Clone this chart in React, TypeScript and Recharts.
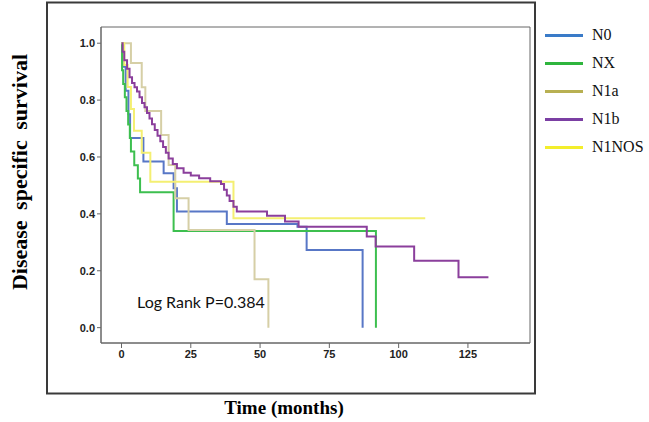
import { LineChart, Line, XAxis, YAxis, ReferenceArea } from 'recharts';

const seriesNames = ['N0', 'NX', 'N1a', 'N1b', 'N1NOS'];
const lineColors = ['#5877c6', '#3dbf4f', '#d6cfa6', '#8b3f9c', '#f4ef72'];
const legendColors = ['#3a7bc8', '#2fb53d', '#b8b052', '#7b3fa3', '#f3ee2c'];

// survival steps (time in months, cumulative survival)
const n0Time = [0, 0.5, 1.5, 2.5, 3.1, 7.9, 15.2, 18.8, 20, 38, 63.5, 66.8, 87];
const n0Surv = [1, 0.917, 0.833, 0.75, 0.667, 0.584, 0.543, 0.49, 0.408, 0.364, 0.355, 0.273, 0];

const nxTime = [0, 0.2, 0.6, 1.2, 1.8, 2.4, 3.0, 3.4, 4.6, 5.9, 6.7, 18.8, 91.8];
const nxSurv = [1, 0.905, 0.857, 0.81, 0.762, 0.714, 0.667, 0.619, 0.571, 0.524, 0.476, 0.34, 0];

const n1aTime = [0, 3.4, 7.3, 8.6, 14.3, 17, 19.4, 24.2, 48, 53];
const n1aSurv = [1, 0.93, 0.845, 0.762, 0.677, 0.572, 0.455, 0.343, 0.17, 0];

const n1bTime = [0, 0.4, 1, 2, 2.9, 3.8, 4.7, 5.6, 6.5, 7.4, 8.3, 9.2, 10.1, 11, 12, 13, 14, 15, 16, 17, 18.5, 20, 22.4, 25, 28, 32, 35.9, 37, 38, 39, 40.4, 41.6, 52.5, 59, 63.9, 88.5, 91.7, 105.6, 121.6, 132.4];
const n1bSurv = [1, 0.97, 0.94, 0.91, 0.88, 0.86, 0.845, 0.83, 0.81, 0.79, 0.775, 0.755, 0.735, 0.715, 0.695, 0.675, 0.655, 0.635, 0.615, 0.595, 0.575, 0.56, 0.545, 0.535, 0.525, 0.515, 0.505, 0.485, 0.465, 0.445, 0.425, 0.408, 0.393, 0.373, 0.355, 0.32, 0.285, 0.235, 0.177, 0.177];

const n1nosTime = [0, 1.0, 2.2, 3.4, 4.5, 7.3, 10.4, 40.4, 109.6];
const n1nosSurv = [1, 0.923, 0.846, 0.769, 0.692, 0.615, 0.513, 0.385, 0.385];

const xTicks = [0, 25, 50, 75, 100, 125];
const yTicks = [0, 0.2, 0.4, 0.6, 0.8, 1.0];

const toPoints = (t: number[], s: number[]) => t.map((v, i) => ({ t: v, s: s[i] }));

const series = [
  { name: seriesNames[0], color: lineColors[0], data: toPoints(n0Time, n0Surv) },
  { name: seriesNames[1], color: lineColors[1], data: toPoints(nxTime, nxSurv) },
  { name: seriesNames[2], color: lineColors[2], data: toPoints(n1aTime, n1aSurv) },
  { name: seriesNames[4], color: lineColors[4], data: toPoints(n1nosTime, n1nosSurv) },
  { name: seriesNames[3], color: lineColors[3], data: toPoints(n1bTime, n1bSurv) },
];

const xDomain = [-7.4, 147.4];
const yDomain = [-0.054, 1.057];

const tickStyle = { fontFamily: 'Liberation Sans, Arial', fontWeight: 700, fontSize: 11, fill: '#222' };
const serif = '"Liberation Serif", "Times New Roman", serif';

const App = () => {
  return (
    <div style={{ position: 'absolute', left: 0, top: 0, width: 649, height: 422, background: '#fff' }}>
      <svg
        width={649}
        height={422}
        style={{ position: 'absolute', left: 0, top: 0 }}
      >
        <rect x={47} y={2.5} width={488} height={391} fill="none" stroke="#3a3a3a" strokeWidth={2} />
      </svg>
      <div style={{ position: 'absolute', left: 0, top: 0 }}>
        <LineChart width={649} height={422} margin={{ top: 27, right: 119, bottom: 49, left: 51 }}>
          <XAxis
            dataKey="t"
            type="number"
            domain={xDomain}
            ticks={xTicks}
            allowDataOverflow
            height={30}
            tickSize={5}
            tick={tickStyle}
            axisLine={{ stroke: '#666' }}
            tickLine={{ stroke: '#666' }}
          />
          <YAxis
            type="number"
            domain={yDomain}
            ticks={yTicks}
            allowDataOverflow
            width={50}
            tickSize={4}
            tick={tickStyle}
            tickFormatter={(v: number) => v.toFixed(1)}
            axisLine={{ stroke: '#666' }}
            tickLine={{ stroke: '#666' }}
          />
          <ReferenceArea
            x1={xDomain[0]}
            x2={xDomain[1]}
            y1={yDomain[0]}
            y2={yDomain[1]}
            fill="none"
            stroke="#666"
            strokeWidth={1}
            ifOverflow="visible"
          />
          {series.map((s) => (
            <Line
              key={s.name}
              data={s.data}
              dataKey="s"
              name={s.name}
              type="stepAfter"
              stroke={s.color}
              strokeWidth={2}
              dot={false}
              activeDot={false}
              isAnimationActive={false}
            />
          ))}
        </LineChart>
      </div>
      <div
        style={{
          position: 'absolute',
          left: 137,
          top: 294,
          fontFamily: 'Lato, "Open Sans", sans-serif',
          fontSize: 16,
          lineHeight: '16px',
          color: '#111',
          whiteSpace: 'nowrap',
        }}
      >
        Log Rank P=0.384
      </div>
      <div
        style={{
          position: 'absolute',
          left: 20,
          top: 172,
          transform: 'translate(-50%, -50%) rotate(-90deg)',
          fontFamily: serif,
          fontWeight: 700,
          fontSize: 22,
          wordSpacing: 5,
          whiteSpace: 'nowrap',
          color: '#000',
        }}
      >
        Disease specific survival
      </div>
      <div
        style={{
          position: 'absolute',
          left: 284,
          top: 408,
          transform: 'translate(-50%, -50%)',
          fontFamily: serif,
          fontWeight: 700,
          fontSize: 19,
          whiteSpace: 'nowrap',
          color: '#000',
        }}
      >
        Time (months)
      </div>
      <div style={{ position: 'absolute', left: 545, top: 21 }}>
        {seriesNames.map((name, i) => (
          <div key={name} style={{ display: 'flex', alignItems: 'center', height: 28 }}>
            <div style={{ width: 38, height: 3, background: legendColors[i] }} />
            <span style={{ marginLeft: 9, fontFamily: serif, fontSize: 16, color: '#111' }}>
              {name}
            </span>
          </div>
        ))}
      </div>
    </div>
  );
};

export default App;
